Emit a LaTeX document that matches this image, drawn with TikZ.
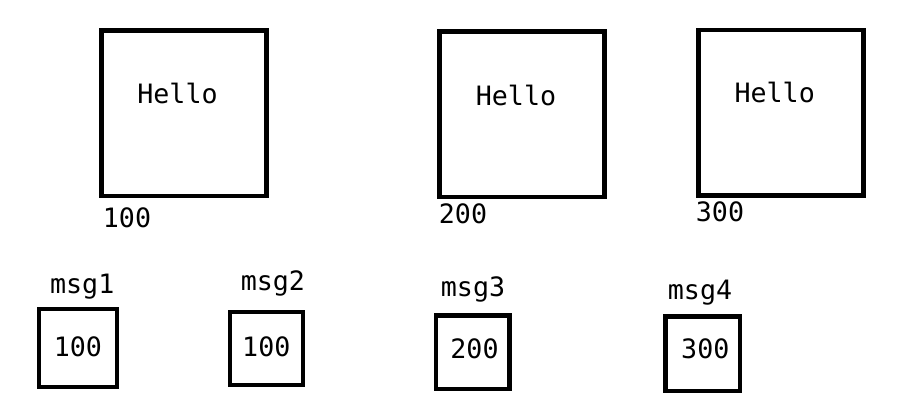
\documentclass[tikz,border=0pt]{standalone}
\usepackage{fontspec}
\newfontfamily\monofont{DejaVu Sans Mono}
\usetikzlibrary{positioning}

\tikzset{
  box/.style={draw, line width=3.5pt, inner sep=0pt, font=\monofont\fontsize{20}{24}\selectfont},
  bigbox/.style={box, minimum width=124pt, minimum height=124pt},
  msgbox/.style={box, minimum size=#1},
  txt/.style={inner sep=0pt, anchor=base, font=\monofont\fontsize{20}{24}\selectfont},
}

\begin{document}
\begin{tikzpicture}[x=0.75pt, y=-0.75pt]
      \fill[white] (0,0) rectangle (914,417);
      \useasboundingbox (0,0) rectangle (914,417);
      % objects
      \node[bigbox] (obj1) at (184,113.5) {};
      \node[bigbox] (obj2) at (522,114.5) {};
      \node[bigbox] (obj3) at (781,112.75) {};
      \node[txt] (hello1) at (177.5,104) {Hello};
      \node[txt] (hello2) at (516,106) {Hello};
      \node[txt] (hello3) at (774.7,102.7) {Hello};
      \node[txt] (addr1) at (127,228) {100};
      \node[txt] (addr2) at (463,223.5) {200};
      \node[txt] (addr3) at (720,221.7) {300};
      % references
      \node[msgbox=58.5pt] (ref1) at (78,348) {};
      \node[msgbox=54.75pt] (ref2) at (266.5,348.5) {};
      \node[msgbox=55pt] (ref3) at (472.75,352.25) {};
      \node[msgbox=56pt] (ref4) at (702.75,353.75) {};
      \node[txt] (val1) at (77.9,356.7) {100};
      \node[txt] (val2) at (266.3,356.7) {100};
      \node[txt] (val3) at (474.5,358.3) {200};
      \node[txt] (val4) at (705.3,358.3) {300};
      \node[txt] (msg1) at (82.2,293.3) {msg1};
      \node[txt] (msg2) at (272.9,290) {msg2};
      \node[txt] (msg3) at (473,296.7) {msg3};
      \node[txt] (msg4) at (700,299.3) {msg4};
\end{tikzpicture}
\end{document}
